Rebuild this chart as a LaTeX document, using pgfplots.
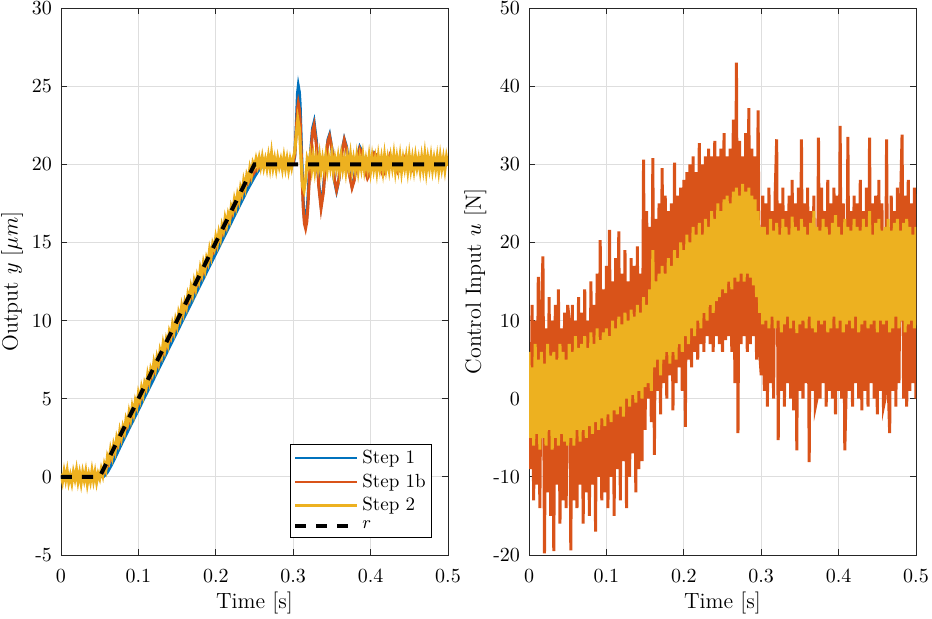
\documentclass[border=0pt]{standalone}
\usepackage{pgfplots}
\usepackage{pgfplotstable}
\pgfplotsset{compat=1.18}
\definecolor{mblue}{rgb}{0,0.447,0.741}
\definecolor{morange}{rgb}{0.85,0.325,0.098}
\definecolor{myellow}{rgb}{0.929,0.694,0.125}
\definecolor{axgray}{rgb}{0.15,0.15,0.15}

% Left: Step 2 output, sampled every 2 ms from t = 0
\pgfplotstableread[row sep=\\]{y\\
0.2\\ -0.3\\ 0.35\\ -0.2\\ 0.4\\ -0.35\\ 0.1\\ -0.4\\ 0.3\\ -0.15\\
0.45\\ -0.3\\ 0.25\\ -0.4\\ 0.3\\ -0.2\\ 0.35\\ -0.45\\ 0.15\\ -0.3\\
0.4\\ -0.25\\ 0.3\\ -0.35\\ 0.2\\ -0.1\\ 0.5\\ 0.1\\ 0.8\\ 0.45\\
1.3\\ 1.0\\ 1.75\\ 1.3\\ 2.05\\ 1.65\\ 2.5\\ 2.15\\ 2.95\\ 2.5\\
3.2\\ 2.85\\ 3.7\\ 3.4\\ 4.15\\ 3.7\\ 4.5\\ 4.05\\ 4.85\\ 4.5\\
5.35\\ 4.95\\ 5.7\\ 5.25\\ 6.0\\ 5.7\\ 6.55\\ 6.1\\ 6.9\\ 6.6\\
7.35\\ 6.9\\ 7.65\\ 7.25\\ 8.1\\ 7.75\\ 8.55\\ 8.1\\ 8.8\\ 8.45\\
9.3\\ 9.0\\ 9.75\\ 9.3\\ 10.05\\ 9.65\\ 10.5\\ 10.15\\ 10.95\\ 10.5\\
11.2\\ 10.85\\ 11.7\\ 11.4\\ 12.15\\ 11.7\\ 12.5\\ 12.05\\ 12.85\\ 12.5\\
13.35\\ 12.95\\ 13.7\\ 13.25\\ 14.0\\ 13.7\\ 14.55\\ 14.1\\ 14.9\\ 14.6\\
15.35\\ 14.9\\ 15.65\\ 15.25\\ 16.1\\ 15.75\\ 16.55\\ 16.1\\ 16.8\\ 16.45\\
17.3\\ 17.0\\ 17.75\\ 17.3\\ 18.05\\ 17.65\\ 18.5\\ 18.15\\ 18.95\\ 18.5\\
19.3\\ 19.0\\ 19.75\\ 19.3\\ 20.1\\ 19.85\\ 20.35\\ 19.9\\ 20.4\\ 19.85\\
20.45\\ 19.8\\ 20.3\\ 19.75\\ 20.5\\ 19.8\\ 20.7\\ 19.8\\ 20.35\\ 19.7\\
20.4\\ 19.85\\ 20.3\\ 19.7\\ 20.45\\ 19.75\\ 20.35\\ 19.65\\ 20.3\\ 19.8\\
20.4\\ 20.8\\ 21.9\\ 22.9\\ 22.3\\ 20.4\\ 18.6\\ 18.3\\ 19.0\\ 20.3\\
19.9\\ 20.6\\ 19.7\\ 20.5\\ 19.6\\ 20.4\\ 19.75\\ 20.55\\ 19.6\\ 20.35\\
19.7\\ 20.5\\ 19.65\\ 20.4\\ 19.8\\ 20.6\\ 19.6\\ 20.35\\ 19.75\\ 20.45\\
19.6\\ 20.5\\ 19.7\\ 20.35\\ 19.55\\ 20.45\\ 19.8\\ 20.6\\ 19.65\\ 20.35\\
19.7\\ 20.5\\ 19.6\\ 20.4\\ 19.75\\ 20.55\\ 19.65\\ 20.3\\ 19.7\\ 20.5\\
19.6\\ 20.45\\ 19.7\\ 20.35\\ 19.55\\ 20.5\\ 19.75\\ 20.4\\ 19.6\\ 20.55\\
19.7\\ 20.35\\ 19.65\\ 20.45\\ 19.8\\ 20.6\\ 19.6\\ 20.4\\ 19.7\\ 20.5\\
19.55\\ 20.35\\ 19.75\\ 20.45\\ 19.6\\ 20.55\\ 19.7\\ 20.4\\ 19.65\\ 20.5\\
19.8\\ 20.35\\ 19.6\\ 20.45\\ 19.7\\ 20.6\\ 19.55\\ 20.4\\ 19.75\\ 20.5\\
19.65\\ 20.35\\ 19.7\\ 20.45\\ 19.6\\ 20.5\\ 19.75\\ 20.4\\ 19.65\\ 20.45\\
19.9\\
}\yelL

% Right: Step 1b control input, every 2 ms
\pgfplotstableread[row sep=\\]{y\\
5\\ -9\\ 12\\ -13\\ 10\\ -11\\ 15.6\\ -14\\ 11\\ 18.2\\
-19.8\\ 9\\ -12\\ 13\\ -15\\ 10\\ -19.5\\ 12\\ -11\\ 14\\
-16\\ 9\\ -13\\ 11\\ -14\\ 12\\ 10\\ -19.4\\ 12\\ -13\\
10\\ -14\\ 13\\ -11\\ 11\\ -16\\ 14\\ -12\\ 10\\ -15\\
15\\ -11\\ 12\\ -17\\ 16\\ -10\\ 20.3\\ -13\\ 14\\ -12\\
17\\ -14\\ 21.6\\ -10\\ 15\\ -15\\ 18\\ -9\\ 21.4\\ -13\\
16\\ -8\\ 19\\ -14\\ 15\\ -10\\ 18\\ -7\\ 17\\ -12\\
19.5\\ -9\\ 16\\ -8\\ 30.6\\ -4\\ 24\\ 0\\ 22\\ -3\\
30.8\\ -7.2\\ 23\\ 1\\ 25\\ -2\\ 29.5\\ 2\\ 26\\ 0\\
24\\ 3\\ 25\\ -1.5\\ 30.2\\ 2\\ 26\\ 4\\ 27\\ 1\\
28\\ -3.6\\ 29\\ 5\\ 30\\ 4\\ 31\\ 6\\ 29\\ 5\\
32.7\\ 7\\ 30\\ 6\\ 31\\ 8\\ 32\\ 7\\ 31\\ 6\\
33\\ 8\\ 31\\ 7\\ 32\\ 6\\ 34\\ 7.5\\ 31\\ 8\\
32\\ 6\\ 35.7\\ 2\\ 43\\ -4.4\\ 33\\ 7\\ 31\\ 8\\
34\\ 6\\ 37.2\\ 7\\ 32\\ 8\\ 31\\ 5\\ 36.9\\ 6\\
3\\ 26\\ 1\\ 25\\ -1\\ 27\\ 2\\ 24\\ 0\\ 26\\
33.2\\ -5.3\\ 25\\ 1\\ 27\\ -1\\ 24\\ 2\\ 26\\ 0\\
28\\ -1.5\\ 25\\ -6.6\\ 27\\ 1\\ 33.2\\ 0\\ 25\\ 2\\
27\\ -8.1\\ 24\\ 1\\ 26\\ -1\\ 0\\ 33.4\\ 0\\ 27\\
2\\ 24\\ -1\\ 28\\ 1\\ 25\\ 0\\ 27\\ -2\\ 26\\
1\\ 34.9\\ 0\\ 25\\ -6.6\\ 2\\ 33.5\\ 1\\ 24\\ -1\\
26\\ 2\\ 25\\ 0\\ 28\\ -1.5\\ 24\\ 1\\ 27\\ -1\\
33.4\\ 2\\ 25\\ 0\\ 26\\ -2\\ 28\\ 1\\ 25\\ -1\\
0\\ 33.2\\ 2\\ -4.4\\ 26\\ 1\\ 24\\ -1\\ 27\\ 2\\
25\\ 33.8\\ 0\\ 26\\ -1\\ 28\\ 1\\ 25\\ 2\\ 27\\
0\\
}\orR

% Right: Step 2 control input, every 2 ms
\pgfplotstableread[row sep=\\]{y\\
6\\ -5\\ 4\\ -6\\ 7\\ -4.5\\ 5\\ -6.5\\ 6\\ -5\\
4.5\\ -6\\ 7\\ -4\\ 5.5\\ -6.5\\ 6\\ -5\\ 5\\ -6\\
7\\ -4.5\\ 6\\ -5.5\\ 5\\ -6\\ 7\\ -5\\ 6\\ -6\\
8\\ -4\\ 6.5\\ -5.5\\ 7\\ -4\\ 8\\ -5\\ 6.5\\ -3.5\\
8.5\\ -4.5\\ 7\\ -3\\ 9\\ -4\\ 7.5\\ -2.5\\ 8.5\\ -3.5\\
9\\ -2\\ 8\\ -3\\ 10\\ -1.5\\ 9\\ -2\\ 10.5\\ -1\\
9.5\\ -2.3\\ 11\\ 0\\ 10\\ -1\\ 11.4\\ 0.5\\ 10.5\\ -0.5\\
12\\ 1\\ 11\\ 0\\ 13\\ 1.5\\ 12\\ 2\\ 14\\ 1\\
19\\ 4\\ 15\\ 5\\ 16\\ 3\\ 17\\ 5\\ 16\\ 6\\
18\\ 4.5\\ 17\\ 6\\ 19\\ 5\\ 18\\ 7\\ 20\\ 6\\
19\\ 8\\ 21\\ 7\\ 20\\ 9\\ 22\\ 8\\ 21\\ 10\\
22.5\\ 9\\ 21\\ 11\\ 23\\ 10\\ 22\\ 12\\ 24\\ 11\\
23\\ 12.5\\ 25\\ 13\\ 24\\ 14\\ 25.5\\ 13.5\\ 26\\ 15\\
25\\ 14\\ 26.5\\ 15.5\\ 27\\ 15\\ 26\\ 16\\ 27.5\\ 15\\
26.5\\ 16\\ 27\\ 15.5\\ 26\\ 14.5\\ 25.5\\ 13\\ 24\\ 11\\
22\\ 9.5\\ 22\\ 10\\ 21\\ 9\\ 23\\ 10.5\\ 21.5\\ 9\\
22.5\\ 10\\ 21\\ 8.5\\ 23\\ 9.5\\ 22\\ 10.5\\ 21\\ 9\\
23.3\\ 10\\ 22\\ 8.4\\ 21.5\\ 9.5\\ 23\\ 10\\ 22\\ 9\\
21\\ 10.5\\ 22.5\\ 9\\ 24\\ 8.5\\ 22\\ 10\\ 21.5\\ 9.5\\
23\\ 10\\ 22\\ 8.5\\ 21\\ 9\\ 22.5\\ 10.5\\ 23.5\\ 9\\
22\\ 10\\ 21\\ 8.5\\ 23\\ 9.5\\ 22\\ 10\\ 21.5\\ 9\\
23\\ 10.5\\ 22\\ 8.5\\ 21.5\\ 9.5\\ 23\\ 10\\ 22\\ 9\\
24\\ 9.5\\ 21\\ 10\\ 22.5\\ 8.5\\ 23\\ 10\\ 21.5\\ 9.5\\
22\\ 10\\ 23\\ 8.5\\ 21.5\\ 9\\ 22.5\\ 10.5\\ 23\\ 9\\
21.5\\ 10\\ 22.5\\ 8.5\\ 23\\ 9.5\\ 22\\ 10\\ 21\\ 9\\
22\\
}\yelR

\pgfplotsset{mystyle/.style={
  scale only axis, width=193.5pt, height=273.5pt,
  axis line style={draw=axgray, line width=0.4pt},
  grid=major, major grid style={line width=0.4pt, draw=black!13},
  tick align=inside, xtick pos=both, ytick pos=both,
  major tick length=3pt, tick style={draw=axgray, line width=0.4pt},
  xmin=0, xmax=0.5,
  xtick={0,0.1,0.2,0.3,0.4,0.5},
  xticklabels={0,0.1,0.2,0.3,0.4,0.5},
  ticklabel style={font=\fontsize{10}{12}\selectfont},
  xticklabel style={yshift=-3.5pt},
  yticklabel style={xshift=-1pt},
  label style={font=\fontsize{11}{13}\selectfont},
  xlabel style={at={(rel axis cs:0.5,-0.0878)}, anchor=center},
  legend cell align=left,
  legend image code/.code={\draw[#1] (0pt,0pt) -- (31pt,0pt);},
}}

\begin{document}
\begin{tikzpicture}
\useasboundingbox (0,0) rectangle (466pt,309.5pt);
\begin{axis}[mystyle, at={(30.5pt,32pt)}, anchor=south west,
  ymin=-5, ymax=30,
  ytick={-5,0,5,10,15,20,25,30},
  yticklabels={-5,0,5,10,15,20,25,30},
  xlabel={Time [s]},
  ylabel={Output $y$ [$\mu m$]},
  ylabel style={at={(rel axis cs:-0.1266,0.5)}, anchor=center},
  legend style={at={(0.959,0.031)}, anchor=south east, draw=black, line width=0.4pt,
    font=\fontsize{9.5}{11}\selectfont, inner sep=1.5pt, row sep=0.6pt,
    nodes={inner sep=1.5pt}},
]
\addplot[mblue, line width=1.5pt, legend image post style={line width=1.1pt}] coordinates {
(0,0.05)(0.005,-0.1)(0.01,0.1)(0.015,-0.05)(0.02,0.08)(0.025,-0.1)(0.03,0.05)(0.035,-0.08)(0.04,0.1)(0.045,-0.05)
(0.05,0)(0.055,0.02)(0.06,0.3)(0.065,0.75)(0.07,1.25)(0.08,2.3)(0.09,3.3)(0.10,4.3)(0.11,5.3)(0.12,6.3)
(0.13,7.3)(0.14,8.3)(0.15,9.3)(0.16,10.3)(0.17,11.3)(0.18,12.3)(0.19,13.3)(0.20,14.3)(0.21,15.3)(0.22,16.3)
(0.23,17.3)(0.24,18.3)(0.25,19.2)(0.255,19.6)(0.26,19.85)(0.265,20.0)(0.27,20.05)(0.28,20.0)(0.29,20.05)(0.30,20.0)
(0.302,20.5)(0.304,22.5)(0.3055,24.5)(0.3066,25.0)(0.308,24.6)(0.309,23.8)(0.311,20.5)(0.313,17.6)(0.3145,16.5)(0.316,16.2)(0.3175,16.6)(0.319,17.8)(0.322,20.5)(0.325,22.3)
(0.327,22.7)(0.330,21.5)(0.333,18.8)(0.336,17.4)(0.339,18.4)(0.342,20.3)(0.345,21.6)(0.347,21.9)(0.350,21.0)(0.353,19.0)
(0.356,18.3)(0.359,19.0)(0.362,20.6)(0.366,21.6)(0.369,21.1)(0.372,19.6)(0.376,18.6)(0.379,19.1)(0.382,20.3)(0.386,21.1)
(0.389,20.8)(0.392,19.8)(0.396,19.2)(0.399,19.4)(0.402,20.2)(0.405,20.7)(0.409,20.5)(0.412,19.8)(0.416,19.5)(0.42,19.7)
(0.425,20.4)(0.43,20.2)(0.435,19.7)(0.44,19.9)(0.445,20.3)(0.45,20.1)(0.455,19.8)(0.46,20.0)(0.465,20.2)(0.47,19.9)
(0.48,20.1)(0.49,19.9)(0.5,20.0)};
\addlegendentry{Step 1}
\addplot[morange, line width=1.5pt, legend image post style={line width=1.1pt}] coordinates {
(0,0)(0.01,0.1)(0.02,-0.1)(0.03,0.1)(0.04,-0.1)(0.05,0)(0.055,0.2)(0.06,0.7)(0.1,4.7)(0.15,9.7)
(0.2,14.7)(0.24,18.7)(0.25,19.5)(0.26,20.0)(0.27,20.1)(0.28,19.9)(0.29,20.1)
(0.300,20.1)(0.302,20.6)(0.304,22.2)(0.3055,23.5)(0.3066,23.9)(0.308,23.5)(0.309,22.8)(0.311,19.8)(0.313,17.2)(0.3145,16.2)(0.316,15.9)(0.3175,16.3)(0.319,17.3)(0.322,20.2)
(0.325,22.1)(0.327,22.5)(0.330,21.2)(0.333,18.6)(0.336,17.2)(0.339,18.2)(0.342,20.2)(0.345,21.5)(0.347,21.8)(0.350,21.0)
(0.353,19.1)(0.356,18.35)(0.359,19.0)(0.362,20.5)(0.366,21.55)(0.369,21.0)(0.372,19.5)(0.376,18.5)(0.379,19.0)(0.382,20.2)
(0.386,21.0)(0.389,20.7)(0.392,19.8)(0.396,19.1)(0.399,19.4)(0.402,20.2)(0.405,20.7)(0.409,20.5)(0.412,19.8)(0.416,19.3)
(0.42,19.7)(0.425,20.6)(0.43,20.2)(0.435,19.5)(0.44,19.9)(0.445,20.5)(0.45,20.0)(0.455,19.6)(0.46,20.1)(0.465,20.4)
(0.47,19.8)(0.475,19.7)(0.48,20.2)(0.485,20.1)(0.49,19.8)(0.495,20.1)(0.5,20.0)};
\addlegendentry{Step 1b}
\addplot[myellow, line width=1.5pt, legend image post style={line width=1.1pt}] table[x expr=\coordindex*0.002, y=y] {\yelL};
\addlegendentry{Step 2}
\addplot[black, line width=2pt, dash pattern=on 5.5pt off 5pt] coordinates {(0,0)(0.05,0)(0.25,20)(0.5,20)};
\addlegendentry{$r$}
\end{axis}

\begin{axis}[mystyle, at={(264.5pt,32pt)}, anchor=south west,
  ymin=-20, ymax=50,
  ytick={-20,-10,0,10,20,30,40,50},
  yticklabels={-20,-10,0,10,20,30,40,50},
  xlabel={Time [s]},
  ylabel={Control Input $u$ [N]},
  ylabel style={at={(rel axis cs:-0.1388,0.5)}, anchor=center},
]
\addplot[morange, line width=1.5pt] table[x expr=\coordindex*0.002, y=y] {\orR};
\addplot[myellow, line width=1.5pt] table[x expr=\coordindex*0.002, y=y] {\yelR};
\end{axis}
\end{tikzpicture}
\end{document}
